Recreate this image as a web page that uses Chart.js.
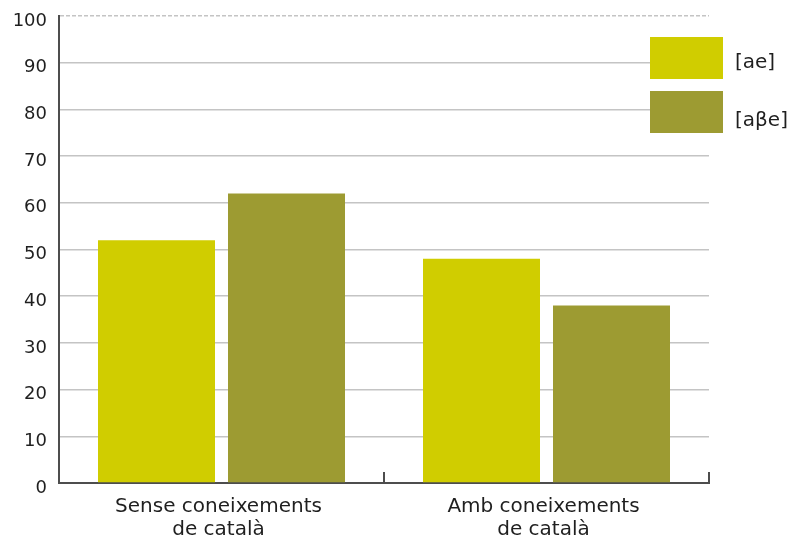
<!DOCTYPE html>
<html>
<head>
<meta charset="utf-8">
<script src="https://cdn.jsdelivr.net/npm/chart.js@4"></script>
<style>
  html, body { margin: 0; padding: 0; background: #ffffff; }
  canvas { display: block; }
</style>
</head>
<body>
<canvas id="chart" width="790" height="541"></canvas>
<script>
// Categories (two-line labels) and the two pronunciations compared
const categories = [
  ["Sense coneixements", "de català"],
  ["Amb coneixements", "de català"]
];
const seriesLabels = ["[ae]", "[aβe]"];
const aeValues = [52, 48];
const abeValues = [62, 38];

// Value axis range
const yMin = 0;
const yMax = 100;
const yStep = 10;

const seriesColors = ["#d0cd00", "#9d9b32"];
const textColor = "#1f1f1f";
const axisColor = "#4d4d4d";
const gridColor = "#c4c4c4";
const fontFamily = "'DejaVu Sans', Verdana, sans-serif";

// Short upward tick marks on the category axis, at the category boundaries
const categoryTicks = {
  id: "categoryTicks",
  afterDraw(chart) {
    const x = chart.scales.x;
    const ctx = chart.ctx;
    const bottom = chart.chartArea.bottom;
    ctx.save();
    ctx.strokeStyle = axisColor;
    ctx.lineWidth = 2;
    for (let i = 0; i < categories.length; i++) {
      const px = Math.round(x.getPixelForValue(i + 0.5));
      ctx.beginPath();
      ctx.moveTo(px, bottom);
      ctx.lineTo(px, bottom - 11);
      ctx.stroke();
    }
    ctx.restore();
  }
};

// Legend drawn over the top-right corner of the plot
const boxLegend = {
  id: "boxLegend",
  afterDraw(chart) {
    const ctx = chart.ctx;
    const boxX = 650, boxW = 73, boxH = 42;
    const boxTops = [37, 91];
    const textYs = [63, 121];
    ctx.save();
    ctx.font = "20px " + fontFamily;
    ctx.textBaseline = "middle";
    ctx.textAlign = "left";
    chart.data.datasets.forEach((ds, i) => {
      ctx.fillStyle = ds.backgroundColor;
      ctx.fillRect(boxX, boxTops[i], boxW, boxH);
      ctx.fillStyle = textColor;
      ctx.fillText(ds.label, 735, textYs[i]);
    });
    ctx.restore();
  }
};

new Chart(document.getElementById("chart"), {
  type: "bar",
  data: {
    labels: categories,
    datasets: [
      { label: seriesLabels[0], data: aeValues, backgroundColor: seriesColors[0] },
      { label: seriesLabels[1], data: abeValues, backgroundColor: seriesColors[1] }
    ]
  },
  options: {
    responsive: false,
    devicePixelRatio: 1,
    animation: false,
    layout: { padding: { top: 16, right: 81, left: 0, bottom: 0 } },
    datasets: { bar: { categoryPercentage: 0.8, barPercentage: 0.9, borderWidth: 0 } },
    plugins: {
      legend: { display: false },
      tooltip: { enabled: false }
    },
    scales: {
      x: {
        grid: { display: false, drawTicks: false },
        border: { display: true, color: axisColor, width: 2 },
        ticks: {
          color: textColor,
          padding: 13,
          maxRotation: 0,
          labelOffset: -3,
          font: { family: fontFamily, size: 20, lineHeight: 1.12 }
        },
        afterFit(scale) { scale.height = 58; scale.paddingLeft = 0; scale.paddingRight = 0; }
      },
      y: {
        min: yMin,
        max: yMax,
        ticks: {
          stepSize: yStep,
          color: textColor,
          padding: 12,
          labelOffset: 5,
          font: { family: fontFamily, size: 18 }
        },
        grid: {
          drawTicks: false,
          lineWidth: 1.5,
          color: (c) => (c.tick && c.tick.value === yMin) ? "rgba(0,0,0,0)" : gridColor
        },
        border: {
          display: true,
          color: axisColor,
          width: 2,
          dash: (c) => (c.tick && c.tick.value === yMax) ? [4, 2] : []
        },
        afterFit(scale) { scale.width = 59; scale.paddingTop = 0; scale.paddingBottom = 0; }
      }
    }
  },
  plugins: [categoryTicks, boxLegend]
});
</script>
</body>
</html>
